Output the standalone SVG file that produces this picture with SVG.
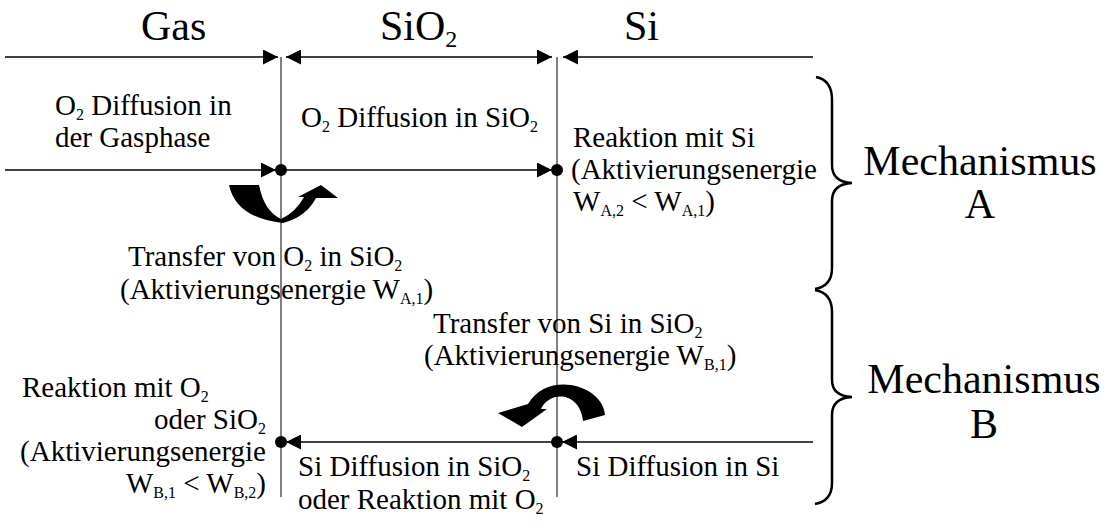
<svg xmlns="http://www.w3.org/2000/svg" width="1120" height="527" viewBox="0 0 1120 527">
<style>
text{font-family:"Liberation Serif","Times New Roman",serif;fill:#000}
.h{font-size:42px}
.t{font-size:29px}
.s{font-size:16px}
.hs{font-size:24px}
.ln{stroke:#000;stroke-width:1.5;fill:none}
.v{stroke:#808080;stroke-width:2;fill:none}
.br{stroke:#000;stroke-width:2.5;fill:none}
.dot{fill:#000}
.ca{fill:#000}
</style>
<defs>
<marker id="ah" markerUnits="userSpaceOnUse" markerWidth="15" markerHeight="15" viewBox="0 0 14 14" refX="14" refY="7" orient="auto-start-reverse">
<path d="M0,0 L14,7 L0,14 Z" fill="#000"/>
</marker>
</defs>
<g id="connectors">
<line class="v" x1="281" y1="57" x2="281" y2="497"/>
<line class="v" x1="557" y1="57" x2="557" y2="497"/>
<line class="ln" x1="5" y1="57" x2="278" y2="57" marker-end="url(#ah)"/>
<line class="ln" x1="286" y1="57" x2="552" y2="57" marker-start="url(#ah)" marker-end="url(#ah)"/>
<line class="ln" x1="813" y1="57" x2="563" y2="57" marker-end="url(#ah)"/>
<line class="ln" x1="5" y1="170" x2="276" y2="170" marker-end="url(#ah)"/>
<line class="ln" x1="281" y1="170" x2="552" y2="170" marker-end="url(#ah)"/>
<line class="ln" x1="813" y1="442" x2="562" y2="442" marker-end="url(#ah)"/>
<line class="ln" x1="557" y1="442" x2="286" y2="442" marker-end="url(#ah)"/>
<circle class="dot" cx="281" cy="170" r="6"/>
<circle class="dot" cx="557" cy="170" r="6"/>
<circle class="dot" cx="557" cy="442" r="6"/>
<circle class="dot" cx="281" cy="442" r="6"/>
<path id="curve-A" class="ca" d="M229,185 L259,185 Q264,211 281,219 Q296,212 304,197 L298,197 L321,185 L338,198 L316,198 Q306,217 283,223 Q236,218 229,185 Z"/>
<path id="curve-B" class="ca" d="M583,421 L605,415 C603,385 548,370 528,404 L498,413 L522,427 L547,409 L541,409 C550,390 580,392 583,421 Z"/>
</g>
<g id="brace-A"><path class="br" d="M816,77 Q832,80 832,100 L832,165 Q832,182 852,183 Q832,184 832,201 L832,268 Q832,286 815,289"/></g>
<g id="brace-B"><path class="br" d="M815,290 Q832,293 832,312 L832,380 Q832,396 852,397 Q832,398 832,415 L832,483 Q832,501 815,504"/></g>
<g id="header-gas"><text class="h" x="141" y="40">Gas</text></g>
<g id="header-sio2"><text class="h" x="380" y="40">SiO<tspan class="hs" dy="7">2</tspan></text></g>
<g id="header-si"><text class="h" x="624" y="40">Si</text></g>
<g id="o2-gas"><text class="t" x="55" y="115">O<tspan class="s" dy="5">2</tspan><tspan dy="-5"> Diffusion in</tspan></text><text class="t" x="55" y="147">der Gasphase</text></g>
<g id="o2-sio2"><text class="t" x="301" y="127">O<tspan class="s" dy="5">2</tspan><tspan dy="-5"> Diffusion in SiO</tspan><tspan class="s" dy="5">2</tspan></text></g>
<g id="reaktion-si"><text class="t" x="573" y="147">Reaktion mit Si</text><text class="t" x="571" y="179">(Aktivierungsenergie</text><text class="t" x="573" y="211">W<tspan class="s" dy="5">A,2</tspan><tspan dy="-5"> &lt; W</tspan><tspan class="s" dy="5">A,1</tspan><tspan dy="-5">)</tspan></text></g>
<g id="transfer-o2"><text class="t" x="128" y="266">Transfer von O<tspan class="s" dy="5">2</tspan><tspan dy="-5"> in SiO</tspan><tspan class="s" dy="5">2</tspan></text><text class="t" x="120" y="299">(Aktivierungsenergie W<tspan class="s" dy="5">A,1</tspan><tspan dy="-5">)</tspan></text></g>
<g id="transfer-si"><text class="t" x="433" y="333">Transfer von Si in SiO<tspan class="s" dy="5">2</tspan></text><text class="t" x="424" y="365">(Aktivierungsenergie W<tspan class="s" dy="5">B,1</tspan><tspan dy="-5">)</tspan></text></g>
<g id="reaktion-o2"><text class="t" x="22" y="397">Reaktion mit O<tspan class="s" dy="5">2</tspan></text><text class="t" x="266" y="429" text-anchor="end">oder SiO<tspan class="s" dy="5">2</tspan></text><text class="t" x="266" y="461" text-anchor="end">(Aktivierungsenergie</text><text class="t" x="266" y="493" text-anchor="end">W<tspan class="s" dy="5">B,1</tspan><tspan dy="-5"> &lt; W</tspan><tspan class="s" dy="5">B,2</tspan><tspan dy="-5">)</tspan></text></g>
<g id="si-sio2"><text class="t" x="298" y="476">Si Diffusion in SiO<tspan class="s" dy="5">2</tspan></text><text class="t" x="298" y="509">oder Reaktion mit O<tspan class="s" dy="5">2</tspan></text></g>
<g id="si-si"><text class="t" x="576" y="476">Si Diffusion in Si</text></g>
<g id="mech-A"><text class="h" x="980" y="175" text-anchor="middle">Mechanismus</text><text class="h" x="980" y="218" text-anchor="middle">A</text></g>
<g id="mech-B"><text class="h" x="984" y="393" text-anchor="middle">Mechanismus</text><text class="h" x="984" y="438" text-anchor="middle">B</text></g>
</svg>
